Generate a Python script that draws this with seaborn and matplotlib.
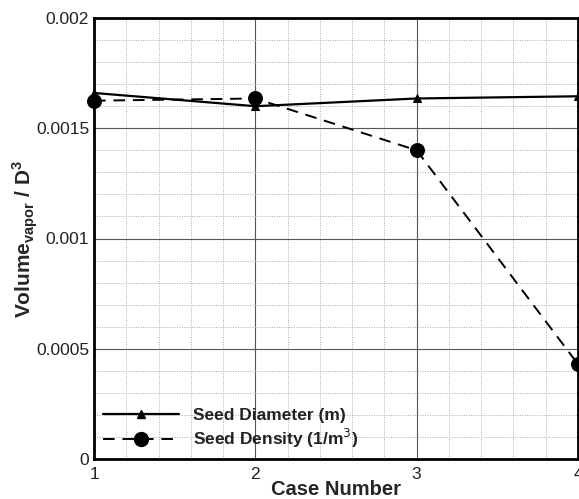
import matplotlib
matplotlib.use("Agg")
import matplotlib.pyplot as plt
import seaborn as sns
import pandas as pd
from matplotlib.ticker import MultipleLocator
from matplotlib.lines import Line2D

cases = [1, 2, 3, 4]
seed_diameter = [0.00166, 0.00160, 0.001635, 0.001645]
seed_density = [0.001625, 0.001635, 0.00140, 0.00043]
x_ticks = [1, 2, 3, 4]
y_ticks = [0, 0.0005, 0.001, 0.0015, 0.002]
y_tick_labels = ["0", "0.0005", "0.001", "0.0015", "0.002"]

sns.set_style("white")
plt.rcParams['font.family'] = ['Liberation Sans', 'DejaVu Sans']

df = pd.DataFrame({
    "case": cases * 2,
    "value": seed_diameter + seed_density,
    "series": ["Seed Diameter (m)"] * 4 + ["Seed Density (1/m$^3$)"] * 4,
})

fig = plt.figure(figsize=(5.79, 4.99), dpi=100)
ax = fig.add_axes([94/579, 40/499, 484/579, 441/499])

dash = (0, (6, 4))
sns.lineplot(data=df[df.series == "Seed Diameter (m)"], x="case", y="value",
             ax=ax, color="black", linewidth=1.6, marker="^", markersize=6,
             markeredgecolor="black", linestyle="-", label="Seed Diameter (m)",
             clip_on=False, zorder=5, legend=False)
sns.lineplot(data=df[df.series != "Seed Diameter (m)"], x="case", y="value",
             ax=ax, color="black", linewidth=1.4, marker="o", markersize=10,
             markeredgecolor="black", linestyle=dash,
             label="Seed Density (1/m$^3$)", clip_on=False, zorder=5, legend=False)

ax.set_xlim(1, 4)
ax.set_ylim(0, 0.002)
ax.set_xticks(x_ticks)
ax.set_xticklabels([str(t) for t in x_ticks])
ax.set_yticks(y_ticks)
ax.set_yticklabels(y_tick_labels)
ax.xaxis.set_minor_locator(MultipleLocator(0.2))
ax.yaxis.set_minor_locator(MultipleLocator(0.0001))

ax.grid(which="major", color="#555555", linewidth=0.8, linestyle="-")
ax.grid(which="minor", color="#aaaaaa", linewidth=0.7, linestyle=(0, (1, 1.5)))
ax.set_axisbelow(True)

ax.tick_params(which="major", direction="in", length=8, width=1.2, colors="black",
               labelsize=12.5, labelcolor="#222222", top=False, right=False)
ax.tick_params(which="minor", direction="in", length=4, width=1.0, colors="black",
               top=False, right=False)
ax.tick_params(axis="x", pad=6)

for s in ax.spines.values():
    s.set_visible(True)
    s.set_color("black")
    s.set_linewidth(2)

ax.set_xlabel("Case Number", fontsize=14.5, fontweight="bold", labelpad=-2)
ax.set_ylabel(r"Volume$_{\mathregular{vapor}}$ / D$^{\mathregular{3}}$", fontsize=15,
              fontweight="bold", labelpad=-3)

handles = [
    Line2D([], [], color="black", linewidth=1.6, marker="^", markersize=6),
    Line2D([], [], color="black", linewidth=1.4, marker="o", markersize=10,
           linestyle=dash),
]
leg = ax.legend(handles, ["Seed Diameter (m)", "Seed Density (1/m$^3$)"],
                loc="lower left", bbox_to_anchor=(0.0, 0.0), frameon=False,
                handlelength=4.4, handletextpad=0.8,
                prop={"weight": "bold", "size": 12.5},
                labelspacing=0.25, borderaxespad=0.1)
for t in leg.get_texts():
    t.set_color("#222222")

fig.savefig("out.png", dpi=100)
